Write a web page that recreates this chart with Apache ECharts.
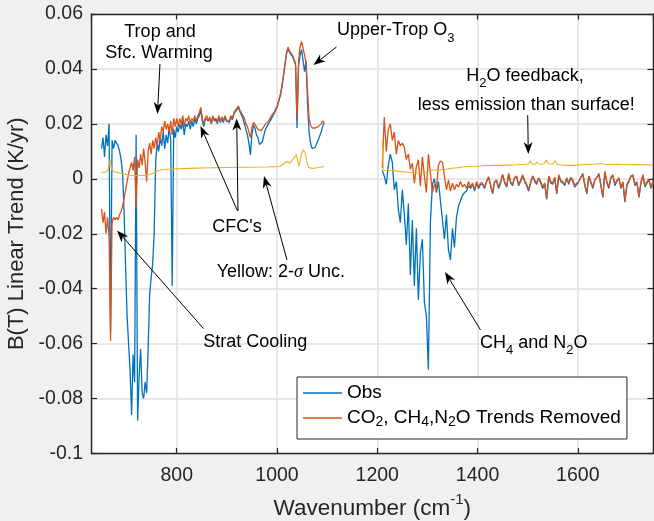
<!DOCTYPE html>
<html>
<head>
<meta charset="utf-8">
<script src="https://cdn.jsdelivr.net/npm/echarts@6/dist/echarts.min.js"></script>
<style>
  html, body { margin: 0; padding: 0; background: #f0f0f0; }
  #chart { width: 654px; height: 521px; }
</style>
</head>
<body>
<div id="chart"></div>
<script>
// ---- Spectral sampling (cm^-1) ----
// Band 1: 650–1094 every 3 cm^-1, band 2: 1210–1750 every 4 cm^-1
const bandA = { start: 650, end: 1094, step: 3 };
const bandB = { start: 1210, end: 1750, step: 4 };

// ---- Observed linear trend, band 1 (K/yr) ----
const obsA = [
  0.011, 0.015, 0.008, 0.016, 0.012, 0.020, -0.056, 0.014, 0.011, 0.014,      // 650
  0.013, 0.012, 0.010, 0.007, 0.002, -0.012, -0.032, -0.050, -0.060, -0.070,  // 680
  -0.086, -0.064, -0.074, 0.016, -0.088, -0.072, -0.062, -0.078, -0.080, -0.074, // 710
  -0.078, -0.062, -0.042, -0.036, -0.031, -0.020, 0.006, 0.013, 0.010, 0.015, // 740
  0.012, 0.017, 0.011, 0.016, 0.013, 0.019, 0.014, -0.039, 0.018, 0.015,      // 770
  0.019, 0.017, 0.020, 0.018, 0.021, 0.016, 0.020, 0.019, 0.021, 0.018,       // 800
  0.021, 0.019, 0.022, 0.020, 0.022, 0.023, 0.025, 0.021, 0.019, 0.022,       // 830
  0.022, 0.021, 0.022, 0.020, 0.0225, 0.021, 0.022, 0.020, 0.0225, 0.0205,    // 860
  0.022, 0.0205, 0.0225, 0.021, 0.0215, 0.0205, 0.0225, 0.0215, 0.0235, 0.0245, // 890
  0.0245, 0.026, 0.0245, 0.025, 0.022, 0.020, 0.018, 0.016, 0.013, 0.0087,    // 920
  0.016, 0.0195, 0.0185, 0.016, 0.015, 0.0125, 0.0121, 0.0135, 0.016, 0.018,  // 950
  0.019, 0.020, 0.021, 0.022, 0.023, 0.024, 0.0245, 0.0265, 0.0285, 0.0305,   // 980
  0.0335, 0.0375, 0.0415, 0.0455, 0.0475, 0.046, 0.0465, 0.0445, 0.044, 0.0415, // 1010
  0.0185, 0.041, 0.045, 0.047, 0.043, 0.039, 0.043, 0.027, 0.017, 0.013,      // 1040
  0.011, 0.0105, 0.0115, 0.012, 0.014, 0.0155, 0.017, 0.019, 0.0205          // 1070
];

// ---- Trend with CO2, CH4, N2O contributions removed, band 1 ----
const remA = [
  -0.011, -0.016, -0.012, -0.020, -0.014, -0.021, -0.059, -0.016, -0.014, -0.015, // 650
  -0.014, -0.015, -0.013, -0.012, -0.010, -0.007, -0.004, -0.001, 0.002, 0.004,   // 680
  0.006, 0.003, 0.008, -0.011, 0.007, 0.004, 0.009, 0.005, 0.011, 0.006,          // 710
  -0.001, 0.010, 0.013, 0.009, 0.014, 0.011, 0.015, 0.012, 0.017, 0.014,          // 740
  0.019, 0.017, 0.021, 0.018, 0.020, 0.017, 0.021, 0.016, 0.022, 0.019,           // 770
  0.022, 0.019, 0.022, 0.020, 0.023, 0.019, 0.022, 0.021, 0.023, 0.020,           // 800
  0.022, 0.021, 0.023, 0.021, 0.023, 0.024, 0.026, 0.022, 0.020, 0.022,           // 830
  0.023, 0.021, 0.0225, 0.020, 0.023, 0.0215, 0.022, 0.0205, 0.023, 0.021,        // 860
  0.0225, 0.021, 0.023, 0.0215, 0.022, 0.021, 0.023, 0.022, 0.024, 0.025,         // 890
  0.025, 0.0265, 0.025, 0.0255, 0.023, 0.022, 0.020, 0.019, 0.017, 0.015,         // 920
  0.0185, 0.0205, 0.0205, 0.019, 0.018, 0.0175, 0.0175, 0.018, 0.019, 0.020,      // 950
  0.0205, 0.021, 0.022, 0.023, 0.0235, 0.0245, 0.025, 0.027, 0.029, 0.031,        // 980
  0.034, 0.038, 0.042, 0.046, 0.048, 0.0465, 0.047, 0.045, 0.0445, 0.042,         // 1010
  0.022, 0.043, 0.048, 0.050, 0.0505, 0.045, 0.042, 0.032, 0.022, 0.0195,         // 1040
  0.0185, 0.018, 0.0185, 0.019, 0.019, 0.0195, 0.020, 0.021, 0.0205               // 1070
];

// ---- Observed linear trend, band 2 ----
const obsB = [
  0.003, 0.001, -0.002, 0.005, 0.009, 0.006, -0.004, -0.001, -0.011, -0.016,     // 1210
  -0.004, -0.013, -0.024, -0.009, -0.035, -0.015, -0.039, -0.018, -0.044, -0.027, // 1250
  -0.022, -0.045, -0.050, -0.0695, -0.016, -0.002, 0.000, -0.005, -0.001, -0.008, // 1290
  -0.015, -0.022, -0.013, -0.026, -0.0295, -0.018, -0.025, -0.014, -0.010, -0.008, // 1330
  -0.006, -0.005, -0.0045, -0.0025, -0.0035, -0.002, -0.0045, -0.0015, -0.0035, -0.002, // 1370
  -0.002, -0.0035, -0.001, 0.0005, -0.0025, -0.0055, -0.001, -0.001, -0.0035, -0.0015, // 1410
  0.0015, -0.0015, -0.003, 0.0015, -0.0015, -0.0025, 0.0005, 0.0005, -0.0025, -0.001, // 1450
  0.001, -0.001, -0.0025, -0.0045, -0.0015, 0.001, -0.001, -0.002, 0.0003, -0.0015,   // 1490
  -0.0035, -0.002, -0.0075, 0.0005, -0.0015, -0.002, 0.0005, -0.0055, 0.001, -0.001,  // 1530
  -0.0015, -0.0025, 0.0003, -0.002, 0.0005, -0.001, -0.003, -0.002, -0.001, 0.0005,   // 1570
  0.0015, -0.0025, -0.0055, 0.001, -0.0015, -0.0035, -0.0005, 0.0005, 0.0015, -0.0025, // 1610
  -0.0068, 0.0025, -0.0015, -0.0035, 0.0005, 0.001, -0.0025, -0.001, 0.0003, -0.0035, // 1650
  -0.0015, -0.0085, -0.0025, -0.001, 0.001, 0.001, -0.0025, -0.0015, -0.0068, -0.0015, // 1690
  0.001, -0.003, -0.0015, -0.0005, -0.0035, -0.0015                                  // 1730
];

// ---- Trend with CO2, CH4, N2O removed, band 2 ----
const remB = [
  0.004, 0.0225, 0.010, 0.018, 0.020, 0.014, 0.017, 0.009, 0.014, 0.012,          // 1210
  0.013, 0.0115, 0.007, 0.009, 0.0035, 0.0057, -0.0016, 0.0045, 0.0069, -0.0027,  // 1250
  0.008, 0.001, -0.005, 0.009, 0.002, -0.005, -0.002, -0.004, 0.005, 0.0065,      // 1290
  0.006, 0.001, -0.004, -0.0004, -0.0045, -0.0016, -0.004, -0.002, -0.003, -0.001, // 1330
  -0.003, -0.002, -0.0035, -0.001, -0.003, -0.0015, -0.004, -0.001, -0.003, -0.0015, // 1370
  -0.0015, -0.003, -0.001, 0.0008, -0.002, -0.0052, -0.001, -0.0004, -0.003, -0.001, // 1410
  0.0015, -0.001, -0.003, 0.002, -0.001, -0.002, 0.0005, 0.001, -0.002, -0.0005,   // 1450
  0.0015, -0.0005, -0.002, -0.004, -0.001, 0.001, -0.0005, -0.0015, 0.0003, -0.001, // 1490
  -0.003, -0.0015, -0.007, 0.001, -0.001, -0.0015, 0.0005, -0.0052, 0.0015, -0.0005, // 1530
  -0.001, -0.002, 0.0003, -0.0015, 0.0005, -0.0003, -0.0025, -0.0015, -0.001, 0.0005, // 1570
  0.002, -0.002, -0.0052, 0.001, -0.001, -0.003, -0.0003, 0.0005, 0.002, -0.002,   // 1610
  -0.0065, 0.0027, -0.001, -0.003, 0.0005, 0.0015, -0.002, -0.0005, 0.0003, -0.003, // 1650
  -0.001, -0.0082, -0.002, -0.0006, 0.001, 0.0015, -0.002, -0.001, -0.0065, -0.001, // 1690
  0.0015, -0.0025, -0.001, -0.0003, -0.003, -0.001                                 // 1730
];

// ---- 2-sigma trend uncertainty ----
const uncWnA = [650, 655, 660, 664, 667, 670, 675, 685, 695, 705,
  715, 725, 735, 745, 755, 765, 775, 790, 810, 840,
  870, 900, 940, 980, 1005, 1012, 1019, 1025, 1030, 1035,
  1039, 1042, 1044, 1048, 1052, 1056, 1059, 1063, 1070, 1080, 1094];
const uncA = [0.0025, 0.0023, 0.0026, 0.0040, 0.0068, 0.0035, 0.0026, 0.0022, 0.0017, 0.0013,
  0.0011, 0.0012, 0.0012, 0.0015, 0.0022, 0.0031, 0.0034, 0.0036, 0.0037, 0.0039,
  0.0040, 0.0041, 0.0042, 0.0043, 0.0045, 0.0052, 0.0063, 0.0058, 0.0066, 0.0080,
  0.0088, 0.0060, 0.0045, 0.0085, 0.0106, 0.0095, 0.0065, 0.0042, 0.0038, 0.0040, 0.0045];
const uncWnB = [1210, 1212, 1220, 1230, 1240, 1250, 1260, 1270, 1280, 1290,
  1300, 1310, 1320, 1330, 1340, 1350, 1360, 1370, 1380, 1400,
  1420, 1440, 1460, 1480, 1495, 1502, 1505, 1509, 1515, 1519,
  1523, 1530, 1534, 1537, 1541, 1550, 1555, 1559, 1570, 1590,
  1610, 1630, 1645, 1650, 1660, 1680, 1700, 1720, 1735, 1750];
const uncB = [0.0135, 0.0032, 0.0031, 0.0030, 0.0028, 0.0026, 0.0024, 0.0022, 0.0021, 0.0022,
  0.0025, 0.0033, 0.0030, 0.0034, 0.0036, 0.0039, 0.0040, 0.0043, 0.0045, 0.0046,
  0.0048, 0.0049, 0.0050, 0.0051, 0.0053, 0.0054, 0.0066, 0.0054, 0.0053, 0.0061,
  0.0053, 0.0054, 0.0056, 0.0068, 0.0055, 0.0053, 0.0066, 0.0053, 0.0050, 0.0049,
  0.0051, 0.0053, 0.0056, 0.0054, 0.0052, 0.0053, 0.0051, 0.0052, 0.0051, 0.0050];

// ---- Axes ----
const xRange = [630, 1750];
const yRange = [-0.1, 0.06];
const yStep = 0.02;
const seriesNames = ['Obs', 'CO2, CH4,N2O Trends Removed'];

// ---- Styling ----
const FONT = "'Liberation Sans', Arial, Helvetica, sans-serif";
const INK = '#262626';
const BLUE = '#0072BD', ORANGE = '#D95319', YELLOW = '#EDB120';

function sampling(b) {
  const w = [];
  for (let x = b.start; x <= b.end; x += b.step) w.push(x);
  return w;
}
function zip(wn, vals) { return wn.map((w, i) => [w, vals[i]]); }
// the gap between the two bands is left empty so the lines break there
const GAP = [[1150, '-']];

const wnA = sampling(bandA), wnB = sampling(bandB);
const obsData = zip(wnA, obsA).concat(GAP, zip(wnB, obsB));
const remData = zip(wnA, remA).concat(GAP, zip(wnB, remB));
const uncData = zip(uncWnA, uncA).concat(GAP, zip(uncWnB, uncB));

const subRich = {
  sub: { fontSize: 13, fontFamily: FONT, verticalAlign: 'bottom', lineHeight: 13, fill: '#000' },
  sig: { fontSize: 18, fontFamily: "'Liberation Serif', 'DejaVu Serif', serif", fontStyle: 'italic', fill: '#000' }
};

const chart = echarts.init(document.getElementById('chart'), null, { renderer: 'canvas' });

const boxAxis = {
  axisLine: { show: true, onZero: false, lineStyle: { color: INK, width: 1.4 } },
  axisTick: { show: true, inside: true, length: 5.5, lineStyle: { color: INK, width: 1.2 } },
  axisLabel: { show: false },
  splitLine: { show: false }
};

chart.setOption({
  animation: false,
  backgroundColor: '#f0f0f0',
  grid: {
    left: 91.5, right: 1, top: 14, bottom: 67.5,
    outerBoundsMode: 'none', containLabel: false,
    show: true, backgroundColor: '#ffffff', borderWidth: 0
  },
  legend: {
    data: seriesNames,
    orient: 'vertical',
    left: 297, top: 377,
    padding: [5, 6, 10, 6],
    itemGap: 3,
    icon: 'rect',
    itemWidth: 39, itemHeight: 1.6,
    backgroundColor: '#ffffff',
    borderColor: INK, borderWidth: 1, borderRadius: 0,
    selectedMode: false,
    formatter: n => n === seriesNames[1] ? 'CO{sub|2}, CH{sub|4},N{sub|2}O Trends Removed' : n,
    textStyle: {
      fontSize: 19, fontFamily: FONT, color: '#000', lineHeight: 22,
      rich: { sub: { fontSize: 14, fontFamily: FONT, color: '#000', verticalAlign: 'bottom', lineHeight: 14 } }
    }
  },
  xAxis: [
    {
      type: 'value', min: xRange[0], max: xRange[1], splitNumber: 5, position: 'bottom',
      axisLine: { show: true, onZero: false, lineStyle: { color: INK, width: 1.4 } },
      axisTick: { show: true, inside: true, length: 5.5, lineStyle: { color: INK, width: 1.2 } },
      axisLabel: {
        show: true, showMinLabel: false, showMaxLabel: false, margin: 12,
        fontSize: 19.5, fontFamily: FONT, color: INK,
        formatter: v => String(v)
      },
      splitLine: { show: true, lineStyle: { color: '#e1e1e1', width: 1.6 } },
      name: 'Wavenumber (cm{sup|-1})',
      nameLocation: 'middle', nameGap: 39,
      nameTextStyle: {
        fontSize: 22.5, fontFamily: FONT, color: INK, lineHeight: 32,
        rich: { sup: { fontSize: 15, fontFamily: FONT, color: INK, verticalAlign: 'top', lineHeight: 15 } }
      }
    },
    Object.assign({ type: 'value', min: xRange[0], max: xRange[1], splitNumber: 5, position: 'top' }, boxAxis)
  ],
  yAxis: [
    {
      type: 'value', min: yRange[0], max: yRange[1], interval: yStep, position: 'left',
      axisLine: { show: true, onZero: false, lineStyle: { color: INK, width: 1.4 } },
      axisTick: { show: true, inside: true, length: 5.5, lineStyle: { color: INK, width: 1.2 } },
      axisLabel: {
        show: true, margin: 8.5, fontSize: 19.5, fontFamily: FONT, color: INK,
        formatter: v => String(+v.toFixed(2))
      },
      splitLine: { show: true, lineStyle: { color: '#e1e1e1', width: 1.6 } },
      name: 'B(T) Linear Trend (K/yr)',
      nameLocation: 'middle', nameGap: 57,
      nameTextStyle: { fontSize: 22, fontFamily: FONT, color: INK }
    },
    Object.assign({ type: 'value', min: yRange[0], max: yRange[1], interval: yStep, position: 'right' }, boxAxis)
  ],
  series: [
    {
      name: seriesNames[0], type: 'line', data: obsData, symbol: 'none', z: 2,
      lineStyle: { color: BLUE, width: 1.3 }, itemStyle: { color: BLUE }, silent: true
    },
    {
      name: seriesNames[1], type: 'line', data: remData, symbol: 'none', z: 3,
      lineStyle: { color: ORANGE, width: 1.3 }, itemStyle: { color: ORANGE }, silent: true
    },
    {
      name: '2-sigma', type: 'line', data: uncData, symbol: 'none', z: 4,
      lineStyle: { color: YELLOW, width: 1.1 }, itemStyle: { color: YELLOW }, silent: true
    }
  ]
});

// ---- Annotations (anchored in data coordinates: [wavenumber, trend]) ----
const labels = [
  { text: 'Trop and', at: [766.6, 0.0535], align: 'center' },
  { text: 'Sfc. Warming', at: [764.6, 0.0459], align: 'center' },
  { text: 'Upper-Trop O{sub|3}', at: [1119.7, 0.0540], align: 'left' },
  { text: 'H{sub|2}O feedback,', at: [1494.7, 0.0373], align: 'center' },
  { text: 'less emission than surface!', at: [1497.3, 0.0270], align: 'center' },
  { text: "CFC's", at: [920.2, -0.0174], align: 'center' },
  { text: 'Yellow: 2-{sig|σ} Unc.', at: [879.7, -0.0341], align: 'left' },
  { text: 'Strat Cooling', at: [853.0, -0.0596], align: 'left' },
  { text: 'CH{sub|4} and N{sub|2}O', at: [1404.9, -0.0598], align: 'left' }
];
const arrows = [
  { from: [766.6, 0.0418], to: [761.6, 0.0236] },
  { from: [1118.7, 0.0480], to: [1072.8, 0.0414] },
  { from: [1500.1, 0.0232], to: [1501.3, 0.0090] },
  { from: [921.2, -0.0117], to: [847.4, 0.0192] },
  { from: [922.2, -0.0117], to: [919.6, 0.0220] },
  { from: [1020.0, -0.0296], to: [974.1, 0.0010] },
  { from: [853.4, -0.0545], to: [680.9, -0.0188] },
  { from: [1405.9, -0.0550], to: [1335.1, -0.0339] }
];

function px(p) { return chart.convertToPixel({ xAxisIndex: 0, yAxisIndex: 0 }, p); }

const graphics = [];
labels.forEach(l => {
  const [x, y] = px(l.at);
  const hasSub = l.text.indexOf('{sub|') >= 0;
  graphics.push({
    type: 'text', x, y, z: 100, silent: true,
    style: {
      text: l.text, fontSize: 18, fontFamily: FONT, fill: '#000',
      align: l.align, verticalAlign: 'middle',
      lineHeight: hasSub ? 28 : 20,
      rich: subRich
    }
  });
});
arrows.forEach(a => {
  const [x1, y1] = px(a.from);
  const [x2, y2] = px(a.to);
  const dx = x2 - x1, dy = y2 - y1, len = Math.hypot(dx, dy);
  const ux = dx / len, uy = dy / len, nx = -uy, ny = ux;
  const L = 12, W = 4.5, N = 8.5;
  const bx = x2 - ux * L, by = y2 - uy * L;
  const notch = [x2 - ux * N, y2 - uy * N];
  graphics.push({
    type: 'line', z: 100, silent: true,
    shape: { x1, y1, x2: notch[0], y2: notch[1] },
    style: { stroke: '#000', lineWidth: 1 }
  });
  graphics.push({
    type: 'polygon', z: 100, silent: true,
    shape: { points: [[x2, y2], [bx + nx * W, by + ny * W], notch, [bx - nx * W, by - ny * W]] },
    style: { fill: '#000' }
  });
});
chart.setOption({ graphic: graphics });
</script>
</body>
</html>
